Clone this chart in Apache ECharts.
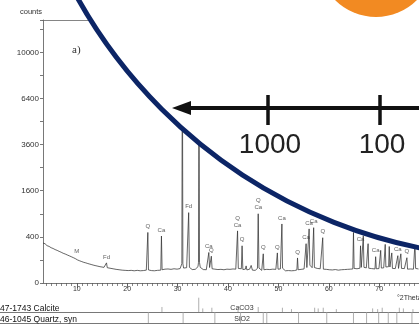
<!DOCTYPE html>
<html>
<head>
<meta charset="utf-8">
<script src="https://cdn.jsdelivr.net/npm/echarts@6/dist/echarts.min.js"></script>
<style>
html,body{margin:0;padding:0;background:#fff;}
#chart{width:419px;height:327px;}
</style>
</head>
<body>
<div id="chart"></div>
<script>
// Measured diffractogram: [2Theta (deg), counts]
const scan = [
  [3.3,300],[3.5,285],[3.7,290],[3.9,266],[4.1,262],[4.3,250],[4.5,252],[4.7,236],[4.9,234],[5.1,222],
  [5.3,224],[5.5,208],[5.7,210],[5.9,198],[6.1,200],[6.3,186],[6.5,188],[6.7,176],[6.9,178],[7.1,164],
  [7.3,166],[7.5,155],[7.7,158],[7.9,146],[8.1,148],[8.3,136],[8.5,139],[8.7,128],[8.9,130],[9.1,118],
  [9.3,121],[9.5,110],[9.7,112],[9.85,104],[10.0,125],[10.15,100],[10.4,97],[10.6,92],[10.8,94],[11.0,86],
  [11.2,88],[11.4,80],[11.6,83],[11.8,76],[12.0,78],[12.2,71],[12.4,73],[12.6,67],[12.8,70],[13.0,63],
  [13.2,66],[13.4,59],[13.6,62],[13.8,56],[14.0,59],[14.2,53],[14.4,56],[14.6,50],[14.8,54],[15.0,48],
  [15.2,51],[15.4,46],[15.6,49],[15.75,45],[15.9,76],[16.05,44],[16.3,47],[16.6,41],[16.9,45],[17.2,38],
  [17.5,43],[17.8,35],[18.1,41],[18.4,33],[18.7,39],[19.0,31],[19.3,38],[19.6,30],[19.9,37],[20.2,29],
  [20.5,36],[20.8,30],[21.1,38],[21.4,28],[21.7,35],[22.0,30],[22.3,37],[22.6,28],[22.9,34],[23.2,29],
  [23.5,36],[23.8,31],[23.97,33],[24.1,480],[24.23,32],[24.5,38],[24.8,29],[25.1,35],[25.4,28],[25.7,36],
  [26.0,30],[26.3,37],[26.67,31],[26.8,415],[26.93,33],[27.2,28],[27.5,36],[27.8,30],[28.1,37],[28.4,29],
  [28.7,35],[29.0,30],[29.3,38],[29.6,31],[29.9,36],[30.2,32],[30.5,39],[30.75,40],[30.85,70],[30.95,12000],
  [31.05,70],[31.2,42],[31.5,36],[31.8,44],[32.05,50],[32.2,930],[32.35,46],[32.6,38],[32.9,34],[33.2,40],
  [33.5,35],[33.8,42],[34.05,50],[34.15,80],[34.25,9500],[34.35,80],[34.5,46],[34.8,38],[35.1,34],[35.4,39],
  [35.7,33],[35.95,40],[36.2,175],[36.35,45],[36.55,42],[36.7,135],[36.85,38],[37.1,31],[37.4,36],[37.7,28],
  [38.0,34],[38.3,27],[38.6,35],[38.9,28],[39.2,33],[39.5,27],[39.8,36],[40.1,29],[40.4,35],[40.7,30],
  [41.0,37],[41.3,30],[41.55,36],[41.75,38],[41.9,510],[42.05,40],[42.35,33],[42.65,38],[42.8,260],[42.95,34],
  [43.2,30],[43.45,36],[43.6,55],[43.75,32],[44.0,29],[44.3,36],[44.6,58],[44.85,31],[45.1,37],[45.4,30],
  [45.65,36],[45.85,40],[46.0,900],[46.15,42],[46.4,35],[46.7,30],[46.87,36],[47.0,160],[47.13,33],[47.4,29],
  [47.7,35],[48.0,28],[48.3,34],[48.6,29],[48.9,36],[49.2,30],[49.5,35],[49.67,33],[49.8,170],[49.93,36],
  [50.15,31],[50.4,37],[50.57,40],[50.7,655],[50.83,41],[51.1,33],[51.4,28],[51.7,35],[52.0,29],[52.3,36],
  [52.6,28],[52.9,34],[53.2,29],[53.5,36],[53.67,32],[53.8,118],[53.93,33],[54.2,28],[54.5,35],[54.8,30],
  [55.1,37],[55.37,38],[55.5,290],[55.65,45],[55.85,42],[55.97,48],[56.1,550],[56.25,60],[56.5,48],[56.7,44],
  [56.87,55],[57.0,575],[57.15,45],[57.4,36],[57.7,40],[58.0,33],[58.3,38],[58.67,37],[58.8,385],[58.93,36],
  [59.2,30],[59.5,35],[59.8,27],[60.1,33],[60.4,26],[60.7,32],[61.0,27],[61.3,34],[61.6,26],[61.9,31],
  [62.2,27],[62.5,33],[62.8,28],[63.1,34],[63.4,29],[63.7,35],[64.0,30],[64.3,36],[64.6,31],[64.77,37],
  [64.9,480],[65.03,40],[65.3,33],[65.6,38],[65.9,34],[66.17,41],[66.3,260],[66.45,46],[66.6,42],[66.72,50],
  [66.85,420],[66.98,46],[67.2,38],[67.45,43],[67.67,42],[67.8,290],[67.93,41],[68.2,34],[68.5,39],[68.8,32],
  [69.17,37],[69.3,130],[69.43,38],[69.7,33],[69.95,39],[70.17,41],[70.3,200],[70.43,42],[70.7,37],[70.9,43],
  [71.07,46],[71.2,280],[71.33,48],[71.55,42],[71.72,47],[71.87,50],[72.0,250],[72.13,48],[72.3,44],[72.37,46],
  [72.5,170],[72.63,40],[72.9,34],[73.2,39],[73.57,38],[73.7,140],[73.83,40],[74.0,37],[74.17,42],[74.3,160],
  [74.43,40],[74.7,34],[75.0,39],[75.37,38],[75.5,120],[75.63,36],[75.9,31],[76.2,37],[76.5,30],[76.8,36],
  [76.97,38],[77.1,300],[77.23,40],[77.5,33],[77.8,37]
];

// Phase assignments written above the peaks
const peakTheta  = [10.0, 15.9, 24.1, 26.8, 32.2, 36.2, 36.7, 41.9, 42.8, 46.0, 47.0, 49.8, 50.7, 53.8, 55.5, 56.1, 57.0, 58.8, 66.3, 66.85, 69.3, 71.2, 72.0, 73.7, 75.5];
const peakCounts = [125, 76, 480, 415, 930, 175, 135, 510, 260, 900, 160, 170, 655, 118, 290, 550, 575, 385, 260, 420, 130, 280, 250, 140, 120];
const peakNames  = ['M','Fd','Q','Ca','Fd','Ca','Q','Q\nCa','Q','Q\nCa','Q','Q','Ca','Q','Ca','Ca','Ca','Q','Ca','Q','Ca','Q','Ca','Ca','Q'];

// Reference patterns (ICDD cards)
const calciteTheta = [26.9, 34.2, 35.0, 36.8, 42.0, 46.0, 50.8, 52.6, 57.2, 57.9, 58.9, 61.5, 68.7, 69.7, 70.6, 74.0, 74.8, 76.7];
const calciteRel   = [0.35, 1.0, 0.25, 0.3, 0.3, 0.35, 0.3, 0.2, 0.3, 0.25, 0.3, 0.2, 0.25, 0.2, 0.3, 0.3, 0.25, 0.2];
const quartzTheta  = [24.2, 31.1, 37.4, 42.5, 47.0, 47.7, 54.0, 59.6, 64.9, 67.5, 69.9, 71.8, 73.5, 76.5];

// Square-root count axis: labelled count values
const countTicks = [0, 400, 1600, 3600, 6400, 10000];

const thetaMin = 3.3, thetaMax = 77.9;
const majorTheta = [10, 20, 30, 40, 50, 60, 70];
const minorTheta = [];
for (let t = 4; t <= 77; t++) minorTheta.push(t);

const plotLeft = 43;
const sansFont = '"Liberation Sans", Arial, sans-serif';
const ink = '#333';

const chart = echarts.init(document.getElementById('chart'), null, {renderer: 'canvas'});

function stickItem(params, api) {
  const a = api.coord([api.value(0), api.value(1)]);
  const b = api.coord([api.value(0), api.value(2)]);
  return {
    type: 'line',
    shape: {x1: a[0], y1: a[1], x2: b[0], y2: b[1]},
    style: {stroke: '#9a9a9a', lineWidth: 0.8}
  };
}

chart.setOption({
  animation: false,
  backgroundColor: '#fff',
  grid: [
    {left: plotLeft, top: 20, right: 0, height: 263},
    {left: plotLeft, top: 297, right: 0, height: 26}
  ],
  xAxis: [
    {
      type: 'value', gridIndex: 0, min: thetaMin, max: thetaMax,
      axisLine: {lineStyle: {color: '#555', width: 0.8}},
      axisTick: {show: true, customValues: majorTheta, length: 5, lineStyle: {color: '#555', width: 0.8}},
      axisLabel: {customValues: majorTheta, fontSize: 7, color: '#333', margin: 3, fontFamily: sansFont},
      splitLine: {show: false}
    },
    {
      type: 'value', gridIndex: 0, min: thetaMin, max: thetaMax, position: 'bottom',
      axisLine: {show: false},
      axisTick: {show: true, customValues: minorTheta, length: 3, lineStyle: {color: '#555', width: 0.7}},
      axisLabel: {show: false},
      splitLine: {show: false}
    },
    {type: 'value', gridIndex: 1, min: thetaMin, max: thetaMax, show: false},
    {
      type: 'value', gridIndex: 0, min: thetaMin, max: thetaMax, position: 'top',
      axisLine: {show: true, lineStyle: {color: '#666', width: 0.8}},
      axisTick: {show: false}, axisLabel: {show: false}, splitLine: {show: false}
    }
  ],
  yAxis: [
    {
      type: 'value', gridIndex: 0, min: 0, max: 114, interval: 10,
      axisLine: {show: true, lineStyle: {color: '#555', width: 0.8}},
      axisTick: {show: true, length: 3, lineStyle: {color: '#555', width: 0.8}},
      axisLabel: {
        fontSize: 8, color: '#333', margin: 4, fontFamily: sansFont,
        formatter: v => countTicks.indexOf(v * v) >= 0 ? String(v * v) : ''
      },
      splitLine: {show: false}
    },
    {type: 'value', gridIndex: 1, min: 0, max: 26 / 11, show: false}
  ],
  series: [
    {
      type: 'line', xAxisIndex: 0, yAxisIndex: 0,
      data: scan.map(p => [p[0], Math.sqrt(p[1])]),
      showSymbol: false, clip: true,
      lineStyle: {color: ink, width: 0.75},
      z: 2
    },
    {
      type: 'scatter', xAxisIndex: 0, yAxisIndex: 0,
      data: peakTheta.map((t, i) => ({value: [t, Math.sqrt(peakCounts[i])], name: peakNames[i]})),
      symbolSize: 1, itemStyle: {color: 'rgba(0,0,0,0)'},
      label: {show: true, position: 'top', distance: 2, formatter: p => p.name, fontSize: 6, lineHeight: 7, color: '#333', fontFamily: sansFont},
      z: 3
    },
    {
      type: 'custom', xAxisIndex: 2, yAxisIndex: 1,
      data: calciteTheta.map((t, i) => [t, 1, 1 + calciteRel[i] * 1.3]),
      renderItem: stickItem
    },
    {
      type: 'custom', xAxisIndex: 2, yAxisIndex: 1,
      data: quartzTheta.map(t => [t, 0, 1]),
      renderItem: stickItem
    }
  ],
  graphic: [
    {type: 'text', left: 20, top: 8, style: {text: 'counts', fontSize: 7.5, fill: '#333', fontFamily: sansFont}},
    {type: 'text', left: 72, top: 45, style: {text: 'a)', fontSize: 11, fill: '#333', fontFamily: '"Liberation Serif", serif'}},
    {type: 'text', left: 397, top: 295, style: {text: '°2Theta', fontSize: 7, fill: '#333', fontFamily: sansFont}},
    {type: 'text', x: 0, y: 309, style: {text: '47-1743 Calcite', fontSize: 8.5, fill: '#111', fontFamily: sansFont, verticalAlign: 'middle'}},
    {type: 'text', x: 0, y: 319.5, style: {text: '46-1045 Quartz, syn', fontSize: 8.5, fill: '#111', fontFamily: sansFont, verticalAlign: 'middle'}},
    {type: 'text', x: 242, y: 308.5, style: {text: 'CaCO3', fontSize: 7, fill: '#333', fontFamily: sansFont, align: 'center', verticalAlign: 'middle'}},
    {type: 'text', x: 242, y: 319.5, style: {text: 'SiO2', fontSize: 7, fill: '#333', fontFamily: sansFont, align: 'center', verticalAlign: 'middle'}},
    {type: 'line', shape: {x1: 0, y1: 312.5, x2: 419, y2: 312.5}, style: {stroke: '#555', lineWidth: 0.8}},
    {type: 'line', shape: {x1: 0, y1: 323.5, x2: 419, y2: 323.5}, style: {stroke: '#555', lineWidth: 0.8}},
    // magnifier lens over the upper right of the plot
    {type: 'circle', z: 100, shape: {cx: 521, cy: -250, r: 508}, style: {fill: '#fff', stroke: '#0c2566', lineWidth: 5}},
    {type: 'circle', z: 101, shape: {cx: 376, cy: -41, r: 58}, style: {fill: '#f28a22'}},
    // scale arrow with decades
    {type: 'line', z: 101, shape: {x1: 182, y1: 108, x2: 419, y2: 108}, style: {stroke: '#111', lineWidth: 4}},
    {type: 'polygon', z: 101, shape: {points: [[172, 108], [191, 101], [191, 115]]}, style: {fill: '#111'}},
    {type: 'line', z: 101, shape: {x1: 268, y1: 95, x2: 268, y2: 125}, style: {stroke: '#111', lineWidth: 3.5}},
    {type: 'line', z: 101, shape: {x1: 380, y1: 95, x2: 380, y2: 125}, style: {stroke: '#111', lineWidth: 3.5}},
    {type: 'text', z: 101, x: 270, y: 145, style: {text: '1000', fontSize: 28, fill: '#222', fontFamily: sansFont, align: 'center', verticalAlign: 'middle'}},
    {type: 'text', z: 101, x: 382, y: 145, style: {text: '100', fontSize: 28, fill: '#222', fontFamily: sansFont, align: 'center', verticalAlign: 'middle'}}
  ]
});
</script>
</body>
</html>
